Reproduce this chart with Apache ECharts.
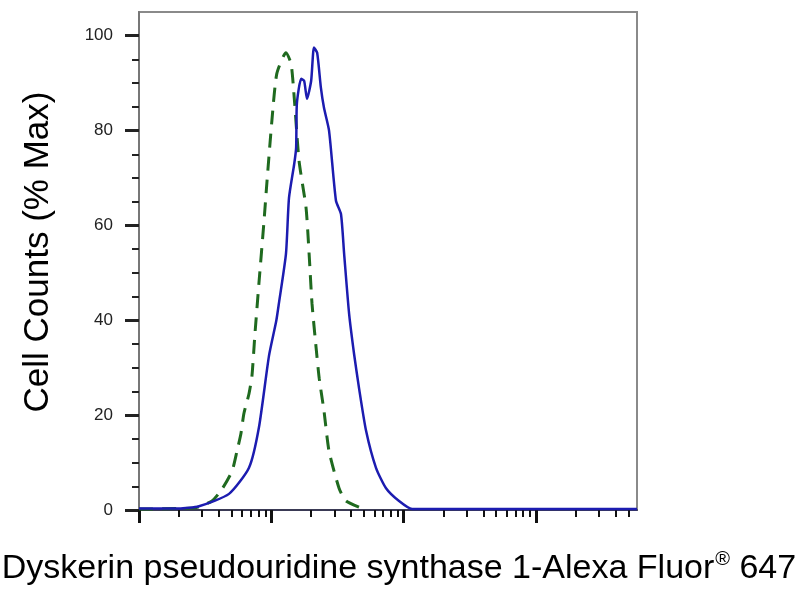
<!DOCTYPE html>
<html>
<head>
<meta charset="utf-8">
<script src="https://cdn.jsdelivr.net/npm/echarts@6/dist/echarts.min.js"></script>
<style>html,body{margin:0;padding:0;background:#fff;}#c{width:800px;height:600px;}</style>
</head>
<body>
<div id="c"></div>
<script>
// Data (x: fluorescence, log scale; y: % of max)
var blueX = [1, 2.0, 2.84, 4.79, 6.78, 8.07, 9.6, 10.9, 11.4, 12.9, 13.6, 14.9, 15.4, 15.6, 16.8, 17.7, 18.6, 20.0, 21.0, 22.2, 23.7, 25.0, 27.3, 30.8, 33.6, 35.5, 38.7, 42.2, 46.0, 52.0, 61.8, 73.6, 92.3, 116, 5800];
var blueY = [0.3, 0.3, 0.8, 3.4, 8.9, 17.5, 32.5, 39.9, 43.5, 54.0, 65.8, 73.0, 76.4, 85.7, 90.9, 90.5, 86.7, 90.5, 97.5, 96.4, 89.0, 84.8, 80.0, 65.2, 62.4, 54.0, 41.4, 32.9, 25.7, 16.7, 8.9, 4.6, 1.9, 0.2, 0.2];
var greenX = [1, 1.94, 2.7, 3.56, 4.24, 5.05, 5.5, 5.9, 6.2, 6.78, 7.14, 7.5, 8.07, 8.81, 9.28, 10.1, 11.0, 12.9, 14.1, 14.9, 16.2, 18.3, 19.3, 20.3, 21.8, 23.0, 25.0, 27.3, 32.5, 36.7, 50.2];
var greenY = [0.2, 0.3, 0.5, 1.9, 4.4, 8.2, 12.4, 16.2, 20.3, 24.5, 28.3, 36.7, 48.0, 61.0, 69.4, 82.1, 92.0, 96.4, 94.1, 86.9, 73.6, 63.7, 54.0, 43.5, 34.2, 27.8, 20.9, 12.4, 4.6, 1.9, 0.2];
var yTicks = [0, 20, 40, 60, 80, 100];
var yMinorTicks = [5, 10, 15, 25, 30, 35, 45, 50, 55, 65, 70, 75, 85, 90, 95];
var xMajorTicks = [1, 10, 100, 1000];
var xMinorTicks = [2,3,4,5,6,7,8,9, 20,30,40,50,60,70,80,90, 200,300,400,500,600,700,800,900, 2000,3000,4000,5000];
var xMin = 1, xMax = 5800;
var yMax = 105;
var xTitle = 'Dyskerin pseudouridine synthase 1-Alexa Fluor';
var xTitleSuffix = ' 647';
var yTitle = 'Cell Counts (% Max)';

function zip(a, b) { return a.map(function (v, i) { return [v, b[i]]; }); }

var chart = echarts.init(document.getElementById('c'), null, { renderer: 'canvas' });
var font = '"Liberation Sans", Arial, sans-serif';
chart.setOption({
  animation: false,
  backgroundColor: '#fff',
  grid: { left: 139, right: 163, top: 12, bottom: 90, show: true, borderColor: '#8a8a8a', borderWidth: 2, backgroundColor: 'transparent' },
  xAxis: [
    { type: 'log', min: xMin, max: xMax, logBase: 10, position: 'bottom',
      axisLine: { show: true, lineStyle: { color: '#3a3a55', width: 2 } },
      axisTick: { show: true, inside: false, length: 13, customValues: xMajorTicks, lineStyle: { color: '#111', width: 3 } },
      axisLabel: { show: false }, splitLine: { show: false }, minorTick: { show: false } },
    { type: 'log', min: xMin, max: xMax, logBase: 10, position: 'bottom', gridIndex: 0,
      axisLine: { show: false },
      axisTick: { show: true, inside: false, length: 7, customValues: xMinorTicks, lineStyle: { color: '#111', width: 2 } },
      axisLabel: { show: false }, splitLine: { show: false } }
  ],
  yAxis: [
    { type: 'value', min: 0, max: yMax, position: 'left',
      axisLine: { show: true, lineStyle: { color: '#777', width: 2 } },
      axisTick: { show: true, inside: false, length: 14, customValues: yTicks, lineStyle: { color: '#222', width: 3 } },
      axisLabel: { show: true, customValues: yTicks, margin: 26, color: '#222', fontSize: 17, fontFamily: '"Liberation Sans Narrow", "Liberation Sans", Arial, sans-serif' },
      splitLine: { show: false } },
    { type: 'value', min: 0, max: yMax, position: 'left', gridIndex: 0,
      axisLine: { show: false },
      axisTick: { show: true, inside: false, length: 7, customValues: yMinorTicks, lineStyle: { color: '#222', width: 2 } },
      axisLabel: { show: false }, splitLine: { show: false } }
  ],
  series: [
    { type: 'line', xAxisIndex: 0, yAxisIndex: 0, data: zip(greenX, greenY), showSymbol: false, smooth: 0.2,
      lineStyle: { color: '#1f6a1f', width: 3, type: [14, 9] }, z: 3 },
    { type: 'line', xAxisIndex: 0, yAxisIndex: 0, data: zip(blueX, blueY), showSymbol: false, smooth: 0.2,
      lineStyle: { color: '#1c1cb0', width: 2.5 }, z: 4 }
  ],
  graphic: [
    { type: 'text', x: 38, y: 252, rotation: Math.PI / 2, z: 10,
      style: { text: yTitle, font: '35px ' + font, fill: '#000', textAlign: 'center', textVerticalAlign: 'middle' } },
    { type: 'text', x: 399, y: 569, z: 10,
      style: { text: '{a|' + xTitle + '}{s|®}{a|' + xTitleSuffix + '}', textAlign: 'center', textVerticalAlign: 'middle',
        rich: { a: { fontSize: 34, fontFamily: '"Liberation Sans", Arial, sans-serif', fill: '#000', lineHeight: 40 },
                s: { fontSize: 20, fontFamily: '"Liberation Sans", Arial, sans-serif', fill: '#000', verticalAlign: 'top', lineHeight: 40, padding: [0, 0, 0, 1] } } } }
  ]
});
</script>
</body>
</html>
